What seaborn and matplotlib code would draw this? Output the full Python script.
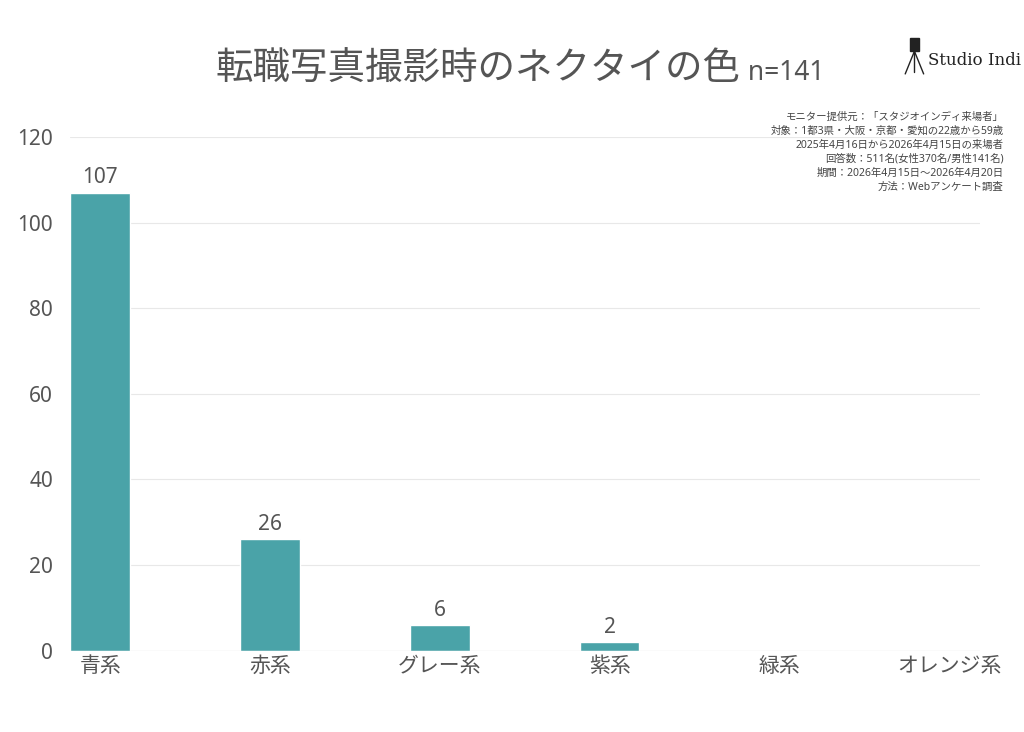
import matplotlib
matplotlib.use("Agg")
import matplotlib.pyplot as plt
import seaborn as sns
import pandas as pd
from matplotlib.lines import Line2D
from matplotlib.patches import Rectangle

categories = ["青系", "赤系", "グレー系", "紫系", "緑系", "オレンジ系"]
values = [107, 26, 6, 2, 0, 0]
yticks = [0, 20, 40, 60, 80, 100, 120]
notes = ["モニター提供元：「スタジオインディ来場者」",
         "対象：1都3県・大阪・京都・愛知の22歳から59歳",
         "2025年4月16日から2026年4月15日の来場者",
         "回答数：511名(女性370名/男性141名)",
         "期間：2026年4月15日〜2026年4月20日",
         "方法：Webアンケート調査"]

sns.set_style("white")
plt.rcParams['font.family'] = ['Noto Sans', 'Noto Sans CJK JP', 'DejaVu Sans']
df = pd.DataFrame({"cat": categories, "val": values})

fig = plt.figure(figsize=(10.24, 7.32), dpi=100)
ax = fig.add_axes([0.068, 0.111, 0.889, 0.702])
sns.barplot(data=df, x="cat", y="val", color="#4AA3A8", saturation=1, width=0.35, ax=ax, zorder=3)
ax.set_xlim(-0.18, 5.18)
ax.set_ylim(0, 120)
ax.set_yticks(yticks)
ax.grid(axis="y", color="#e8e8e8", linewidth=0.8, zorder=0)
for s in ax.spines.values():
    s.set_visible(False)
ax.axhline(0, color="#d0d0d0", linewidth=0.8, zorder=4)
ax.set_xlabel(""); ax.set_ylabel("")
ax.tick_params(axis="both", length=0, labelsize=15, labelcolor="#555555")
ax.tick_params(axis="y", pad=12)
for i, v in enumerate(values):
    if v > 0:
        ax.text(i, v + 1, str(v), ha="center", va="bottom", fontsize=15, color="#555555")

fig.text(0.723, 0.905, "転職写真撮影時のネクタイの色", ha="right", va="center", fontsize=27, color="#555555")
fig.text(0.724, 0.900, " n=141", ha="left", va="center", fontsize=19, color="#555555")
for k, line in enumerate(notes):
    fig.text(0.980, 0.840 - k * 0.0192, line, ha="right", va="center", fontsize=7.5, color="#444444")

# logo
fig.text(0.906, 0.918, "Studio Indi", ha="left", va="center", fontsize=12, color="#222222", family="DejaVu Serif")
fig.add_artist(Rectangle((0.889, 0.930), 0.008, 0.018, color="#222222", transform=fig.transFigure))
fig.add_artist(Line2D([0.893, 0.884], [0.930, 0.899], color="#222222", lw=1, transform=fig.transFigure))
fig.add_artist(Line2D([0.893, 0.902], [0.930, 0.899], color="#222222", lw=1, transform=fig.transFigure))
fig.add_artist(Line2D([0.893, 0.893], [0.930, 0.901], color="#222222", lw=1, transform=fig.transFigure))

fig.savefig("out.png", dpi=100, facecolor="white")
